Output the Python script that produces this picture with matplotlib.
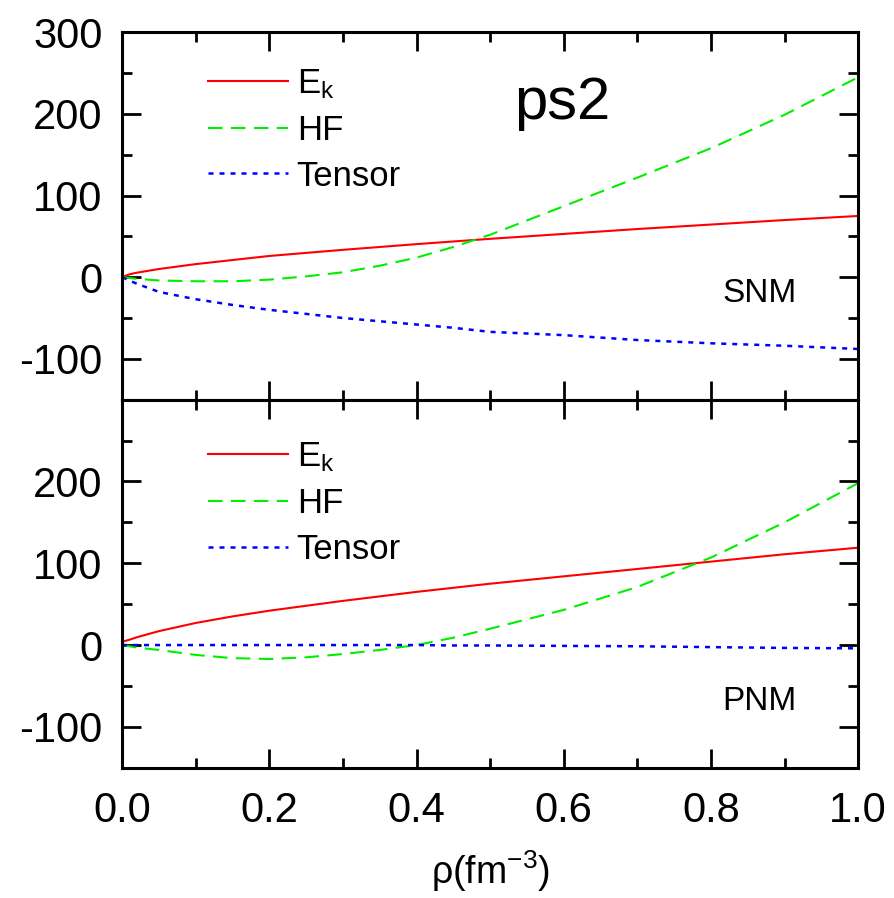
import matplotlib
matplotlib.use("Agg")
import matplotlib.pyplot as plt
from matplotlib.ticker import MultipleLocator

plt.rcParams['font.family'] = ['Liberation Sans', 'DejaVu Sans']
plt.rcParams['mathtext.fontset'] = 'custom'
plt.rcParams['mathtext.rm'] = 'Liberation Sans'
plt.rcParams['mathtext.default'] = 'regular'
plt.rcParams['axes.unicode_minus'] = False

# --- data ---
rho_ek = [0.0, 0.01, 0.02, 0.05, 0.1, 0.15, 0.2, 0.3, 0.4, 0.5, 0.6, 0.7, 0.8, 0.9, 1.0]
ek_snm = [0.0, 3.5, 5.5, 10.0, 16.0, 21.0, 26.0, 33.5, 40.5, 47.0, 53.0, 59.0, 64.5, 70.0, 75.0]
ek_pnm = [4.0, 6.5, 9.5, 17.0, 27.0, 35.0, 42.0, 54.0, 65.0, 75.0, 84.0, 93.0, 102.0, 111.0, 119.0]

rho = [0.0, 0.02, 0.05, 0.1, 0.15, 0.2, 0.25, 0.3, 0.35, 0.4, 0.45, 0.5, 0.6, 0.7, 0.8, 0.9, 1.0]
hf_snm = [0.0, -2.0, -4.0, -5.0, -5.0, -3.0, 1.0, 6.0, 14.0, 24.0, 37.0, 52.0, 87.0, 122.0, 158.0, 199.0, 245.0]
tensor_snm = [0.0, -8.0, -18.0, -27.0, -34.0, -40.0, -45.0, -50.0, -54.0, -58.0, -62.0, -67.0, -71.0, -77.0, -81.0, -84.0, -88.0]
hf_pnm = [0.0, -3.0, -6.0, -12.0, -16.0, -17.0, -15.0, -11.0, -6.0, 0.0, 9.0, 20.0, 43.0, 71.0, 107.0, 150.0, 198.0]
tensor_pnm = [0.0, 0.0, 0.0, 0.0, 0.0, 0.0, 0.0, 0.0, 0.0, 0.0, -0.5, -0.5, -1.0, -1.5, -2.5, -3.5, -4.0]

fig = plt.figure(figsize=(8.94, 8.98), dpi=100)
ax1 = fig.add_axes([0.1365, 0.555, 0.8235, 0.409])
ax2 = fig.add_axes([0.1365, 0.145, 0.8235, 0.410], sharex=ax1)

panels = [(ax1, ek_snm, hf_snm, tensor_snm, 'SNM', 0.289, 0.905),
          (ax2, ek_pnm, hf_pnm, tensor_pnm, 'PNM', 0.179, 0.889)]

for ax, ek, hf, ten, name, ny, ly in panels:
    ax.plot(rho_ek, ek, color='red', lw=1.5, label=r'E$_{\mathregular{k}}$')
    ax.plot(rho, hf, color='#00ee00', lw=1.5, dashes=(7, 4), label='HF')
    ax.plot(rho, ten, color='blue', lw=1.8, dashes=(2, 2.4), label='Tensor')
    ax.set_xlim(0, 1.0)
    ax.set_ylim(-150, 300)
    ax.xaxis.set_major_locator(MultipleLocator(0.2))
    ax.xaxis.set_minor_locator(MultipleLocator(0.1))
    ax.yaxis.set_major_locator(MultipleLocator(100))
    ax.yaxis.set_minor_locator(MultipleLocator(50))
    ax.tick_params(which='both', direction='in', top=True, right=True, width=2)
    ax.tick_params(which='major', length=14, labelsize=30, pad=14)
    ax.tick_params(which='minor', length=7)
    for s in ax.spines.values():
        s.set_linewidth(2.2)
    ax.legend(loc='upper left', bbox_to_anchor=(0.117, ly), frameon=False,
              fontsize=25, handlelength=2.3, handletextpad=0.25,
              labelspacing=0.37, borderaxespad=0, borderpad=0)
    ax.text(0.916, ny, name, transform=ax.transAxes,
            ha='right', va='center', fontsize=24)

ax1.tick_params(labelbottom=False)
ax1.set_yticks([-100, 0, 100, 200, 300])
ax2.set_yticks([-100, 0, 100, 200])
ax1.text(0.598, 0.805, 'ps2', transform=ax1.transAxes, ha='center', va='center', fontsize=43)
ax2.set_xticks([0.0, 0.2, 0.4, 0.6, 0.8, 1.0])
ax2.set_xticklabels(['0.0', '0.2', '0.4', '0.6', '0.8', '1.0'])
ax2.tick_params(axis='x', pad=17)
ax2.set_xlabel(r'ρ(fm$^{-3}$)', fontsize=27, labelpad=12)

fig.savefig('out.png', dpi=100)
